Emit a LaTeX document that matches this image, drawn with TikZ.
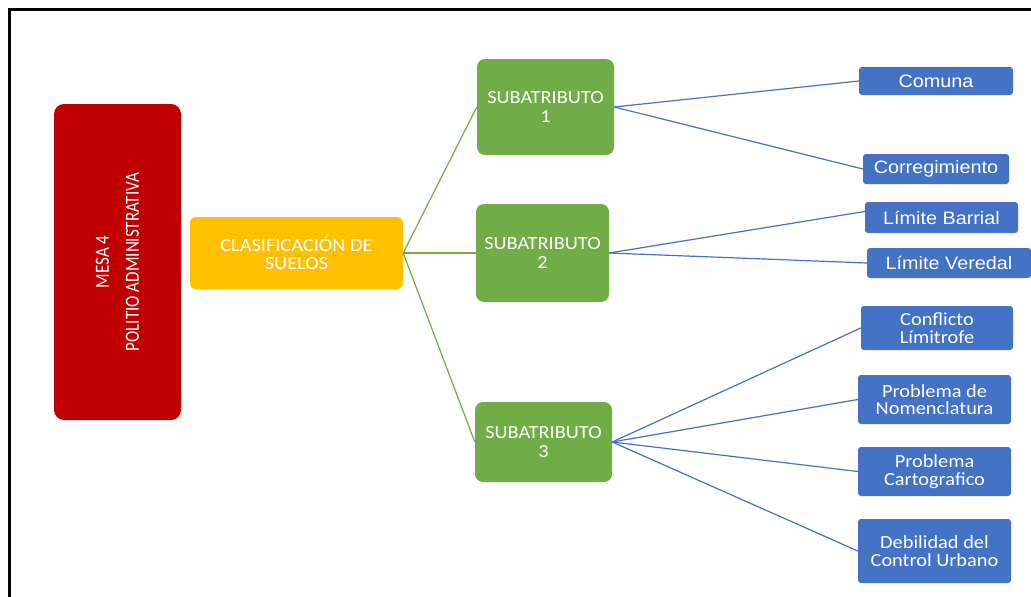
\documentclass[tikz,border=0pt]{standalone}
\usepackage{fontspec}
\newfontfamily\arialx[FakeStretch=1.1]{Liberation Sans}
\newfontfamily\calx[FakeStretch=1.1]{Carlito}
\newfontfamily\calr{Carlito}
\definecolor{cred}{HTML}{C00000}
\definecolor{cyel}{HTML}{FFC000}
\definecolor{cgrn}{HTML}{70AD47}
\definecolor{cblu}{HTML}{4472C4}
\newcommand{\tallx}[1]{\scalebox{1}[1.18]{#1}}
\tikzset{
  basebox/.style={inner sep=0pt, text=white, align=center},
  redbox/.style={basebox, fill=cred, rounded corners=10pt, font=\calr\fontsize{17}{30}\selectfont},
  yelbox/.style={basebox, fill=cyel, rounded corners=6pt, font=\calx\fontsize{18.5}{17.5}\selectfont},
  grnbox/.style={basebox, fill=cgrn, rounded corners=8pt, font=\calx\fontsize{18.5}{18.3}\selectfont},
  bluea/.style={basebox, fill=cblu, rounded corners=3pt, font=\arialx\fontsize{18}{20}\selectfont},
  blueb/.style={basebox, fill=cblu, rounded corners=3pt, font=\calx\fontsize{18.5}{17.5}\selectfont},
  glink/.style={draw=cgrn, line width=1.2pt},
  blink/.style={draw=cblu, line width=1.2pt}
}
\begin{document}
\begin{tikzpicture}[x=1pt,y=-1pt]
\useasboundingbox (0,0) rectangle (1031,597);
\fill[white] (0,0) rectangle (1031,597);
\draw[line width=3pt] (9.5,597) -- (9.5,9.5) -- (1031,9.5);

\node[redbox, rotate=90, minimum width=316, minimum height=127] (mesa) at (117.5,262) {\tallx{MESA 4}\\\tallx{POLITIO ADMINISTRATIVA}};
\node[yelbox, minimum width=213, minimum height=72] (clas) at (296.5,253) {CLASIFICACIÓN DE\\SUELOS};

\node[grnbox, minimum width=137, minimum height=96] (s1) at (545.5,107) {SUBATRIBUTO\\1};
\node[grnbox, minimum width=133, minimum height=98] (s2) at (542.5,253) {SUBATRIBUTO\\2};
\node[grnbox, minimum width=137, minimum height=80] (s3) at (543.5,442) {SUBATRIBUTO\\3};

\node[bluea, minimum width=154, minimum height=28] (comuna) at (936,81) {Comuna};
\node[bluea, minimum width=146, minimum height=30] (corr) at (936,169) {Corregimiento};
\node[bluea, minimum width=153, minimum height=31] (barrial) at (941.5,217.5) {Límite Barrial};
\node[bluea, minimum width=164, minimum height=30] (veredal) at (949,263) {Límite Veredal};

\node[blueb, minimum width=152, minimum height=44] (conf) at (937,328) {Conflicto\\Límitrofe};
\node[blueb, minimum width=153, minimum height=49] (nom) at (934.5,399.5) {Problema de\\Nomenclatura};
\node[blueb, minimum width=153, minimum height=49] (cart) at (934.5,471.5) {Problema\\Cartografico};
\node[blueb, minimum width=153, minimum height=64] (deb) at (934.5,551) {Debilidad del\\Control Urbano};

\draw[glink] (clas.east) -- (s1.west);
\draw[glink] (clas.east) -- (s2.west);
\draw[glink] (clas.east) -- (s3.west);

\draw[blink] (s1.east) -- (comuna.west);
\draw[blink] (s1.east) -- (corr.west);
\draw[blink] (s2.east) -- ([yshift=6pt]barrial.west);
\draw[blink] (s2.east) -- (veredal.west);
\draw[blink] (s3.east) -- (conf.west);
\draw[blink] (s3.east) -- (nom.west);
\draw[blink] (s3.east) -- (cart.west);
\draw[blink] (s3.east) -- (deb.west);
\end{tikzpicture}
\end{document}
